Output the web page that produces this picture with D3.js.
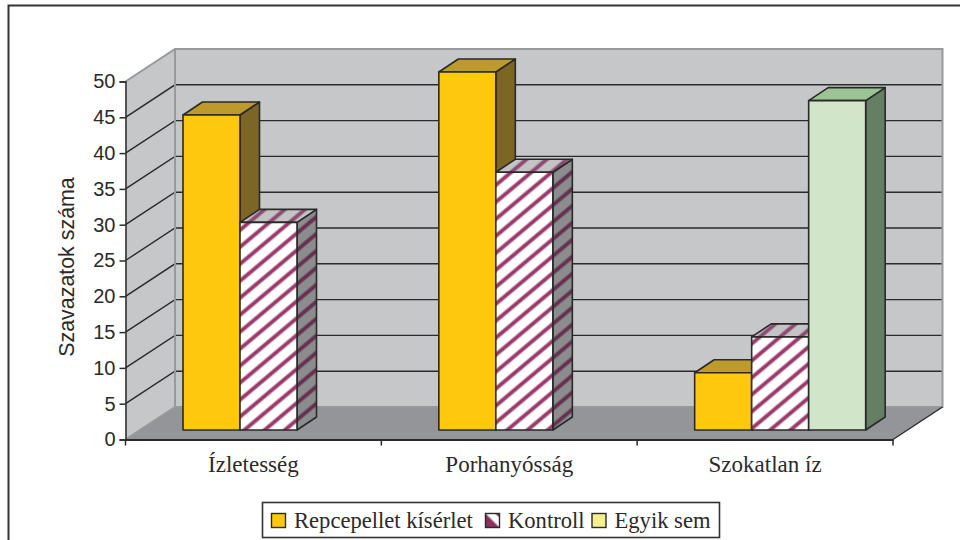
<!DOCTYPE html>
<html><head><meta charset="utf-8">
<script src="https://cdn.jsdelivr.net/npm/d3@7"></script>
<style>html,body{margin:0;padding:0;background:#fff}svg{display:block}</style>
</head><body><svg id="c" width="960" height="540"></svg>
<script>
const categories = ["Ízletesség","Porhanyósság","Szokatlan íz"];
const seriesNames = ["Repcepellet kísérlet","Kontroll","Egyik sem"];
const repcepellet = [44,50,8];
const kontroll = [29,36,13];
const egyikSem = [null,null,46];
const ticks = [0,5,10,15,20,25,30,35,40,45,50];
const seriesValues = [repcepellet,kontroll,egyikSem];

const svg = d3.select("#c");
const ink = "#2a2a2a";
const wall = "#c6c7c9", wallEdge = "#98999b", floorC = "#949598";
const serif = "'Liberation Serif','Times New Roman',serif", sans = "'Liberation Sans',Arial,sans-serif";

const x = d3.scaleBand().domain(categories).range([125.5,893]);
const y = d3.scaleLinear().domain([0,50]).range([439.5,81.5]);
const slot = d3.scaleBand().domain(d3.range(3)).range([57.5,57.5+171]);
const depth = {dx:49.5,dy:-32.5}, barOff = {dx:0,dy:-9.5}, barD = {dx:19.5,dy:-13};
const x0=125.5, x1=893, yB=y(0), yT=y(50);

// patterns
const defs = svg.append("defs");
function pat(id,bg,fg,rot){
  const p = defs.append("pattern").attr("id",id).attr("patternUnits","userSpaceOnUse")
    .attr("width",13).attr("height",13).attr("patternTransform",`rotate(${rot})`);
  p.append("rect").attr("width",13).attr("height",13).attr("fill",bg);
  p.append("rect").attr("width",13).attr("height",1).attr("y",3).attr("fill",fg).attr("opacity",.45);
  p.append("rect").attr("width",13).attr("height",3).attr("y",4).attr("fill",fg);
  p.append("rect").attr("width",13).attr("height",1).attr("y",7).attr("fill",fg).attr("opacity",.45);
}
pat("hFront","#ffffff","#9c3a6b",-40);
pat("hTop","#c4c4c6","#8e4a70",-40);
pat("hSide","#8b8c8e","#66304f",-40);
const lp = defs.append("linearGradient").attr("id","hLeg").attr("x1",0).attr("y1",1).attr("x2",1).attr("y2",0);
[["0%","#8e2f5f"],["45%","#8e2f5f"],["55%","#fff"],["80%","#fff"],["90%","#8e2f5f"]].forEach(s=>lp.append("stop").attr("offset",s[0]).attr("stop-color",s[1]));

const styles = [
  {front:"#fec80f",top:"#bd9a2c",side:"#7c6525",legend:"#fec80f"},
  {front:"url(#hFront)",top:"url(#hTop)",side:"url(#hSide)",legend:"url(#hLeg)"},
  {front:"#d1e5c8",top:"#9bc494",side:"#647f64",legend:"#f5f08f"}
];

// frame
svg.append("path").attr("d","M8.5,540V5.5H960").attr("fill","none").attr("stroke","#333").attr("stroke-width",2);

const line = d3.line();
// walls
svg.append("path").attr("d",line([[x0,yB],[x0+depth.dx,yB+depth.dy],[x1+depth.dx,yB+depth.dy],[x1+depth.dx,yT+depth.dy],[x0+depth.dx,yT+depth.dy],[x0,yT]])+"Z").attr("fill",wall);
// floor
svg.append("path").attr("d",line([[x0,yB],[x0+depth.dx,yB+depth.dy],[x1+depth.dx,yB+depth.dy],[x1,yB]])+"Z").attr("fill",floorC);
// gridlines
svg.append("g").selectAll("path").data(ticks.filter(t=>t>0&&t<50)).join("path")
  .attr("d",t=>line([[x0,y(t)],[x0+depth.dx,y(t)+depth.dy],[x1+depth.dx,y(t)+depth.dy]]))
  .attr("fill","none").attr("stroke",ink).attr("stroke-width",1.4);
svg.append("path").attr("d",line([[x0+depth.dx,yT+depth.dy],[x1+depth.dx,yT+depth.dy]])).attr("stroke",ink).attr("stroke-width",1.4).attr("fill","none");
// wall edges
svg.append("path").attr("d",line([[x0,yT],[x0+depth.dx,yT+depth.dy],[x1+depth.dx,yT+depth.dy],[x1+depth.dx,yB+depth.dy],[x0+depth.dx,yB+depth.dy],[x0,yB]])).attr("fill","none").attr("stroke",wallEdge).attr("stroke-width",2);
svg.append("path").attr("d",line([[x0+depth.dx,yT+depth.dy],[x0+depth.dx,yB+depth.dy]])).attr("fill","none").attr("stroke",wallEdge).attr("stroke-width",2);
svg.append("path").attr("d",line([[x1+depth.dx,yB+depth.dy],[x1,yB]])).attr("fill","none").attr("stroke",ink).attr("stroke-width",1.4);

// bars
const scale = yB-y(1);
const bars = svg.append("g");
categories.forEach((c,i)=>{
  seriesValues.forEach((vals,s)=>{
    const v = vals[i]; if(v==null) return;
    const l = x(c)+slot(s), r = l+slot.bandwidth(), b = yB+barOff.dy, t = b-v*scale, st = styles[s];
    const g = bars.append("g").attr("stroke",ink).attr("stroke-width",1.6).attr("stroke-linejoin","round");
    g.append("path").attr("d",line([[r,b],[r+barD.dx,b+barD.dy],[r+barD.dx,t+barD.dy],[r,t]])+"Z").attr("fill",st.side);
    g.append("path").attr("d",line([[l,t],[l+barD.dx,t+barD.dy],[r+barD.dx,t+barD.dy],[r,t]])+"Z").attr("fill",st.top);
    g.append("rect").attr("x",l).attr("y",t).attr("width",r-l).attr("height",b-t).attr("fill",st.front);
  });
});

// axes
const yAxis = d3.axisLeft(y).tickValues(ticks).tickSize(6).tickPadding(4);
const gy = svg.append("g").attr("transform",`translate(${x0},0)`).call(yAxis);
gy.selectAll("path,line").attr("stroke",ink).attr("stroke-width",1.5);
gy.selectAll("text").attr("font-family",sans).attr("font-size",20).attr("fill",ink);

const xAxis = d3.axisBottom(x).tickSize(0).tickPadding(16);
const gx = svg.append("g").attr("transform",`translate(0,${yB})`).call(xAxis);
gx.select(".domain").attr("stroke",ink).attr("stroke-width",2);
gx.selectAll("text").attr("font-family",serif).attr("font-size",23).attr("fill",ink);
const edges = [x0,...categories.map(c=>x(c)+x.bandwidth())];
svg.append("g").selectAll("line").data(edges).join("line")
  .attr("x1",d=>d).attr("x2",d=>d).attr("y1",yB).attr("y2",yB+6).attr("stroke",ink).attr("stroke-width",1.5);

svg.append("text").attr("transform","translate(74,267) rotate(-90)").attr("text-anchor","middle")
  .attr("font-family",sans).attr("font-size",21.4).attr("fill",ink).text("Szavazatok száma");

// legend
const leg = svg.append("g");
leg.append("rect").attr("x",262.5).attr("y",502.5).attr("width",457).attr("height",35).attr("fill","#fff").attr("stroke","#333").attr("stroke-width",1.6);
const legX = d3.scaleOrdinal().domain(seriesNames).range([271.5,485.5,592]);
seriesNames.forEach((n,i)=>{
  leg.append("rect").attr("x",legX(n)).attr("y",513.5).attr("width",14).attr("height",14).attr("fill",styles[i].legend).attr("stroke",ink).attr("stroke-width",1.4);
  leg.append("text").attr("x",legX(n)+22.5).attr("y",528).attr("font-family",serif).attr("font-size",22.6).attr("fill",ink).text(n);
});
</script></body></html>
